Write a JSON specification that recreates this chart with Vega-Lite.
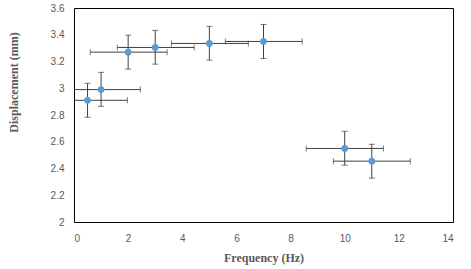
{
  "$schema": "https://vega.github.io/schema/vega-lite/v6.json",
  "width": 379,
  "height": 214,
  "autosize": "none",
  "padding": {"left": 74, "top": 8, "right": 18, "bottom": 47},
  "background": "white",
  "config": {
    "view": {"stroke": "#000000", "strokeWidth": 1},
    "axis": {
      "grid": false,
      "domain": false,
      "ticks": false,
      "tickSize": 0,
      "labelOverlap": false,
      "labelFont": "Liberation Sans",
      "labelFontSize": 10,
      "labelColor": "#595959",
      "titleFont": "Liberation Serif",
      "titleFontSize": 12,
      "titleFontWeight": "bold",
      "titleColor": "#595959"
    },
    "axisX": {"format": "d", "labelPadding": 11, "titleY": 35, "titleBaseline": "middle"},
    "axisY": {"values": [2, 2.2, 2.4, 2.6, 2.8, 3, 3.2, 3.4, 3.6], "format": ".2~f", "labelPadding": 10, "titleX": -61, "titleY": 74, "titleBaseline": "middle"}
  },
  "data": {
    "values": [
      {"x": 0.5, "y": 2.91, "xlo": -0.95, "xhi": 1.97, "ylo": 2.783, "yhi": 3.037},
      {"x": 1, "y": 2.99, "xlo": -0.45, "xhi": 2.45, "ylo": 2.865, "yhi": 3.119},
      {"x": 2, "y": 3.27, "xlo": 0.6, "xhi": 3.44, "ylo": 3.143, "yhi": 3.397},
      {"x": 3, "y": 3.305, "xlo": 1.6, "xhi": 4.44, "ylo": 3.18, "yhi": 3.433},
      {"x": 5, "y": 3.335, "xlo": 3.6, "xhi": 6.44, "ylo": 3.21, "yhi": 3.463},
      {"x": 7, "y": 3.35, "xlo": 5.59, "xhi": 8.43, "ylo": 3.222, "yhi": 3.477},
      {"x": 10, "y": 2.55, "xlo": 8.58, "xhi": 11.43, "ylo": 2.425, "yhi": 2.678},
      {"x": 11, "y": 2.455, "xlo": 9.58, "xhi": 12.42, "ylo": 2.328, "yhi": 2.581}
    ]
  },
  "layer": [
    {
      "mark": {"type": "errorbar", "clip": true, "rule": {"color": "#404040", "strokeWidth": 1}, "ticks": {"color": "#404040", "size": 6}},
      "encoding": {
        "x": {"field": "xlo", "type": "quantitative", "title": "Frequency (Hz)", "scale": {"domain": [0, 14], "nice": false}, "axis": {"values": [0, 2, 4, 6, 8, 10, 12, 14]}},
        "x2": {"field": "xhi"},
        "y": {"field": "y", "type": "quantitative", "title": "Displacement (mm)", "scale": {"domain": [2, 3.6], "nice": false}}
      }
    },
    {
      "mark": {"type": "errorbar", "clip": true, "rule": {"color": "#404040", "strokeWidth": 1}, "ticks": {"color": "#404040", "size": 6}},
      "encoding": {
        "x": {"field": "x", "type": "quantitative", "title": "Frequency (Hz)", "axis": {"values": [0, 2, 4, 6, 8, 10, 12, 14]}},
        "y": {"field": "ylo", "type": "quantitative", "title": "Displacement (mm)"},
        "y2": {"field": "yhi"}
      }
    },
    {
      "mark": {"type": "point", "filled": true, "shape": "circle", "size": 45, "color": "#5B9BD5", "opacity": 1},
      "encoding": {
        "x": {"field": "x", "type": "quantitative", "title": "Frequency (Hz)", "axis": {"values": [0, 2, 4, 6, 8, 10, 12, 14]}},
        "y": {"field": "y", "type": "quantitative", "title": "Displacement (mm)"}
      }
    }
  ]
}
